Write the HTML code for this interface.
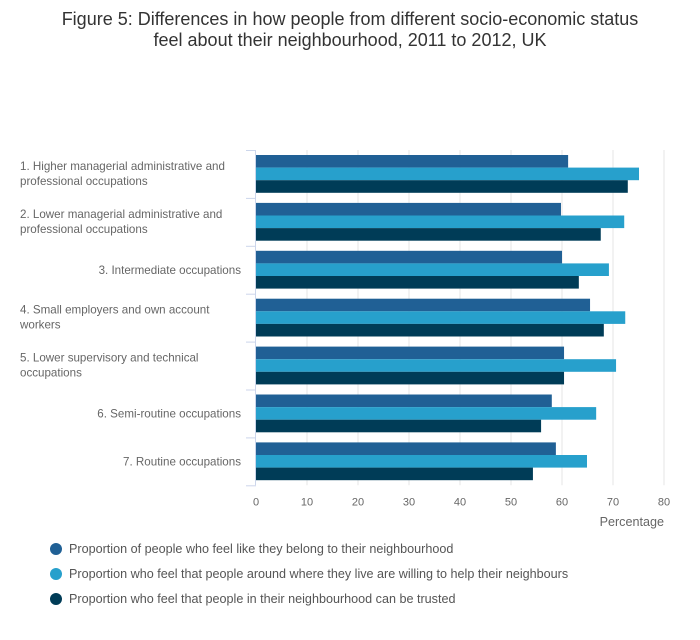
<!DOCTYPE html>
<html><head><meta charset="utf-8"><style>
body{margin:0;background:#fff;font-family:"Liberation Sans",sans-serif;}
svg text{font-family:"Liberation Sans",sans-serif;}
</style></head><body>
<svg id="chart" width="700" height="635">
<text x="350" y="25" text-anchor="middle" font-size="18" fill="#333">Figure 5: Differences in how people from different socio-economic status</text>
<text x="350" y="46" text-anchor="middle" font-size="18" fill="#333">feel about their neighbourhood, 2011 to 2012, UK</text>
<g id="grid"></g><g id="bars"></g><g id="axes"></g>
<g id="legend"></g>
</svg>
<script>
const categories=[["1. Higher managerial administrative and","professional occupations"],["2. Lower managerial administrative and","professional occupations"],["3. Intermediate occupations"],["4. Small employers and own account","workers"],["5. Lower supervisory and technical","occupations"],["6. Semi-routine occupations"],["7. Routine occupations"]];
const belong=[61.2,59.8,60,65.5,60.4,58,58.8];
const help=[75.1,72.2,69.2,72.4,70.6,66.7,64.9];
const trust=[72.9,67.6,63.3,68.2,60.4,55.9,54.3];
const ticks=[0,10,20,30,40,50,60,70,80];
const seriesNames=["Proportion of people who feel like they belong to their neighbourhood","Proportion who feel that people around where they live are willing to help their neighbours","Proportion who feel that people in their neighbourhood can be trusted"];
const colors=["#206095","#27a0cc","#003c57"];
const NS="http://www.w3.org/2000/svg";
const x0=256,x1=664,yTop=150,band=47.9;
const xs=v=>x0+(x1-x0)*v/80;
const yb=i=>yTop+i*band;
function mk(tag,attrs,parent,txt){const e=document.createElementNS(NS,tag);for(const k in attrs)e.setAttribute(k,attrs[k]);if(txt!==undefined)e.textContent=txt;document.getElementById(parent).appendChild(e);return e;}
const bottom=yb(categories.length);
ticks.forEach(t=>{
 if(t>0){const g=mk('line',{x1:xs(t),x2:xs(t),y1:yTop,y2:bottom,stroke:'#e6e6e6'},'grid');
 
 }
 const l=mk('text',{x:xs(t),y:bottom+20,'text-anchor':'middle','font-size':11,fill:'#666'},'axes',t);
 
 
});
const series=[belong,help,trust];
categories.forEach((c,i)=>{
 series.forEach((s,j)=>{
  const r=mk('rect',{x:x0,y:yb(i)+5+j*12.6,width:xs(s[i])-x0,height:12.6,fill:colors[j]},'bars');
  
  
 });
 const cy=yb(i)+band/2;
 if(c.length===1){
  const t=mk('text',{x:241,y:cy+4,'text-anchor':'end','font-size':11.6,fill:'#666'},'axes',c[0]);
  
  
 } else {
  const t=mk('text',{x:20,y:cy-4,'font-size':11.6,fill:'#666'},'axes');
  
  
  c.forEach((ln,k)=>{const ts=document.createElementNS(NS,'tspan');ts.setAttribute('x',20);ts.setAttribute('dy',k?15:0);ts.textContent=ln;t.appendChild(ts);});
 }
});
for(let i=0;i<=categories.length;i++){
 const tk=mk('line',{x1:246,x2:256,y1:yb(i)+0.5,y2:yb(i)+0.5,stroke:'#ccd6eb'},'axes');
 
 
}
const ax=mk('line',{x1:255.5,x2:255.5,y1:yTop,y2:bottom,stroke:'#ccd6eb'},'axes');


const xt=mk('text',{x:664,y:526,'text-anchor':'end','font-size':12.6,fill:'#666'},'axes','Percentage');


seriesNames.forEach((n,j)=>{
 const y=549+j*25;
 const c=mk('circle',{cx:56,cy:y,r:6,fill:colors[j]},'legend');
 
 
 const t=mk('text',{x:69,y:y+4,'font-size':12.6,fill:'#555'},'legend',n);
 
 
});
</script>
</body></html>
